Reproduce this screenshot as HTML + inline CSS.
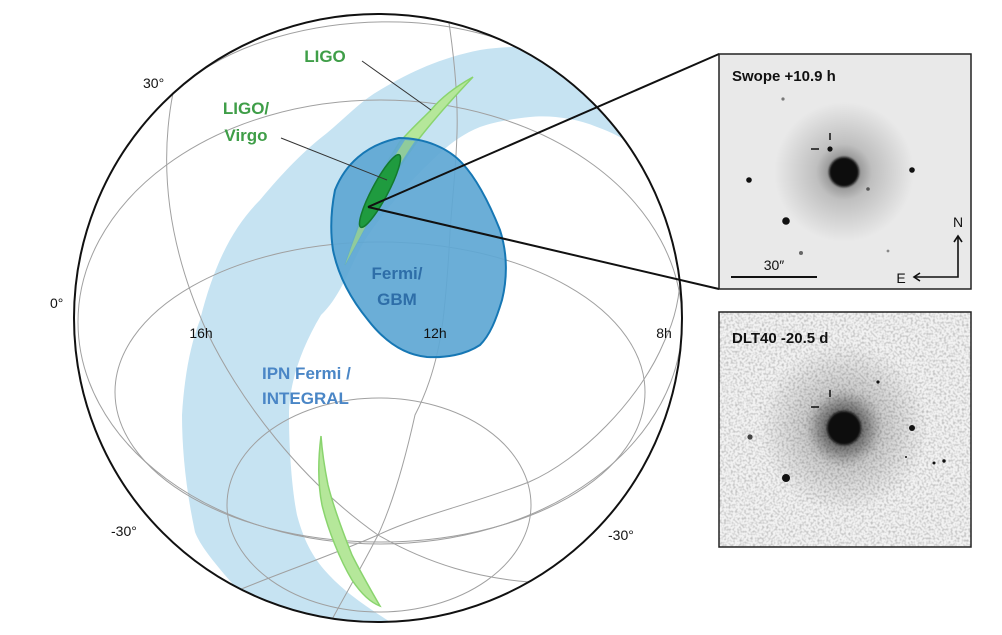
<!DOCTYPE html>
<html><head><meta charset="utf-8"><style>
html,body{margin:0;padding:0;background:#fff;overflow:hidden}
svg{display:block}
text{font-family:"Liberation Sans",Arial,sans-serif}
</style></head><body>
<svg width="1002" height="635" viewBox="0 0 1002 635" xmlns="http://www.w3.org/2000/svg">
<defs>
<clipPath id="gc"><circle cx="378" cy="318" r="304"/></clipPath>
<radialGradient id="halo1"><stop offset="0" stop-color="#000" stop-opacity="0.55"/><stop offset="0.4" stop-color="#000" stop-opacity="0.18"/><stop offset="1" stop-color="#000" stop-opacity="0"/></radialGradient>
<radialGradient id="halo2"><stop offset="0" stop-color="#000" stop-opacity="0.7"/><stop offset="0.4" stop-color="#000" stop-opacity="0.3"/><stop offset="1" stop-color="#000" stop-opacity="0"/></radialGradient>
<filter id="noise" x="0" y="0" width="100%" height="100%"><feTurbulence type="fractalNoise" baseFrequency="0.45" numOctaves="1" seed="3"/><feColorMatrix type="matrix" values="0 0 0 0 0  0 0 0 0 0  0 0 0 0 0  0 0 0 -1.8 1.05"/></filter>
<filter id="blur1"><feGaussianBlur stdDeviation="1"/></filter>
</defs>

<g clip-path="url(#gc)">
 <!-- IPN band -->
 <path d="M200,320 C215,260 235,225 260,200 C285,170 305,150 327,133 C345,118 362,100 380,90 C410,72 440,58 480,50 C505,46 530,46 547,50 C565,55 585,68 597,83 C615,103 628,122 640,148 C625,140 612,132 597,127 C575,118 550,115 530,117 C510,119 495,122 480,127 C465,133 452,142 440,153 C410,180 385,210 365,240 C350,265 342,295 321,315 C300,350 289,385 289,415 C289,450 292,490 297,515 C305,545 315,560 329,575 C345,592 365,606 395,625 L280,630 C255,605 240,595 231,582 C212,560 200,545 195,532 C186,490 182,450 182,415 C184,380 190,345 200,320 Z" fill="#c6e3f2"/>
 <!-- grid -->
 <g fill="none" stroke="#a0a0a0" stroke-width="1">
  <ellipse cx="380" cy="392" rx="265" ry="150"/>
  <ellipse cx="380" cy="322" rx="302" ry="222"/>
  <ellipse cx="379" cy="505" rx="152" ry="107"/>
  <path d="M447,10 C455,60 458,100 457,133 C456,170 452,200 450,233 C448,270 446,295 443,320 C438,360 428,390 415,415 C405,460 392,505 378,535 C360,570 345,595 329,625"/>
  <path d="M173,93 C160,160 165,240 207,332 C240,400 300,480 378,535 C430,565 480,578 529,582 C560,585 590,595 620,610"/>
  <path d="M173,93 C230,40 320,20 400,22 C500,25 600,70 650,150 C685,220 690,290 664,342 C640,400 580,460 529,482 C470,505 420,515 378,535 C320,560 260,580 220,598"/>
 </g>
 <!-- LIGO arcs -->
 <path d="M473,77 C455,87 440,99 431,110 C418,123 408,132 399,143 C385,165 372,190 362,215 C355,235 350,250 345,265 C356,245 368,222 380,200 C392,178 405,158 418,140 C435,118 455,96 473,77 Z" fill="#b5e79a" stroke="#8ad46e" stroke-width="1.5"/>
 <path d="M321,436 C318,460 318,485 322,505 C328,530 340,560 352,580 C362,595 372,603 380,606 C372,592 362,575 352,555 C342,530 333,505 328,485 C324,465 322,450 321,436 Z" fill="#b5e79a" stroke="#8ad46e" stroke-width="1.5"/>
 <!-- Fermi GBM -->
 <path d="M399,138 C425,138 448,148 462,163 C478,180 490,205 500,230 C508,255 507,280 502,300 C496,320 490,335 480,345 C465,355 445,358 427,357 C405,355 385,342 368,320 C350,298 338,275 333,250 C330,230 331,210 335,190 C345,165 365,145 399,138 Z" fill="#5ea7d4" fill-opacity="0.92" stroke="#1677b4" stroke-width="2"/>
 <path d="M405,140 C392,160 380,180 370,200 C360,222 352,245 345,265 C356,245 368,222 380,200 C390,180 402,160 415,141 Z" fill="#9fd68a" fill-opacity="0.75"/>
 <!-- dark green -->
 <ellipse cx="380" cy="191" rx="8" ry="41" transform="rotate(28 380 191)" fill="#1f9b3f" stroke="#137a2d" stroke-width="1.5"/>
 <!-- leader lines -->
 <line x1="362" y1="61" x2="431" y2="110" stroke="#333" stroke-width="1"/>
 <line x1="281" y1="138" x2="387" y2="180" stroke="#333" stroke-width="1"/>
</g>
<circle cx="378" cy="318" r="304" fill="none" stroke="#111" stroke-width="2"/>

<!-- callout lines -->
<line x1="368" y1="207" x2="719" y2="54" stroke="#111" stroke-width="2"/>
<line x1="368" y1="207" x2="719" y2="289" stroke="#111" stroke-width="2"/>

<!-- globe labels -->
<g font-weight="bold" font-size="17">
<text x="325" y="62" fill="#3f9e48" text-anchor="middle">LIGO</text>
<text x="246" y="114" fill="#3f9e48" text-anchor="middle">LIGO/</text>
<text x="246" y="141" fill="#3f9e48" text-anchor="middle">Virgo</text>
<text x="397" y="279" fill="#2e6ea8" text-anchor="middle">Fermi/</text>
<text x="397" y="305" fill="#2e6ea8" text-anchor="middle">GBM</text>
<text x="262" y="379" fill="#4a86c6">IPN Fermi /</text>
<text x="262" y="404" fill="#4a86c6">INTEGRAL</text>
</g>
<g font-size="14" fill="#111">
<text x="143" y="88">30°</text>
<text x="50" y="308">0°</text>
<text x="201" y="338" text-anchor="middle">16h</text>
<text x="435" y="338" text-anchor="middle">12h</text>
<text x="664" y="338" text-anchor="middle">8h</text>
<text x="111" y="536">-30°</text>
<text x="608" y="540">-30°</text>
</g>

<!-- top panel -->
<g>
<rect x="719" y="54" width="252" height="235" fill="#e9e9e9"/>
<circle cx="844" cy="172" r="70" fill="url(#halo1)"/>
<circle cx="844" cy="172" r="15" fill="#0a0a0a" filter="url(#blur1)"/>
<g fill="#111">
<circle cx="749" cy="180" r="2.8"/><circle cx="912" cy="170" r="2.8"/><circle cx="786" cy="221" r="3.8"/>
<circle cx="830" cy="149" r="2.6"/><circle cx="868" cy="189" r="1.8" fill="#555"/><circle cx="801" cy="253" r="2" fill="#666"/>
<circle cx="783" cy="99" r="1.6" fill="#777"/><circle cx="888" cy="251" r="1.4" fill="#888"/>
</g>
<line x1="830" y1="133" x2="830" y2="140" stroke="#111" stroke-width="1.5"/>
<line x1="811" y1="149" x2="819" y2="149" stroke="#111" stroke-width="1.5"/>
<text x="732" y="81" font-size="15" font-weight="bold" fill="#111">Swope +10.9 h</text>
<line x1="731" y1="277" x2="817" y2="277" stroke="#111" stroke-width="2"/>
<text x="774" y="270" font-size="14" fill="#111" text-anchor="middle">30″</text>
<text x="958" y="227" font-size="14" fill="#111" text-anchor="middle">N</text>
<text x="901" y="283" font-size="14" fill="#111" text-anchor="middle">E</text>
<path d="M958,237 L958,277 L915,277" fill="none" stroke="#111" stroke-width="1.6"/>
<path d="M954,242 L958,236 L962,242 M920,273 L914,277 L920,281" fill="none" stroke="#111" stroke-width="1.6"/>
<rect x="719" y="54" width="252" height="235" fill="none" stroke="#222" stroke-width="1.5"/>
</g>

<!-- bottom panel -->
<g>
<rect x="719" y="312" width="252" height="235" fill="#f2f2f2"/>
<rect x="719" y="312" width="252" height="235" filter="url(#noise)" opacity="0.3"/>
<circle cx="844" cy="428" r="85" fill="url(#halo1)"/>
<circle cx="844" cy="428" r="40" fill="url(#halo2)"/>
<circle cx="844" cy="428" r="17" fill="#0a0a0a" filter="url(#blur1)"/>
<g fill="#111">
<circle cx="750" cy="437" r="2.6" fill="#444"/><circle cx="912" cy="428" r="3"/><circle cx="786" cy="478" r="4"/>
<circle cx="878" cy="382" r="1.6"/><circle cx="934" cy="463" r="1.5"/><circle cx="944" cy="461" r="1.7"/><circle cx="906" cy="457" r="1"/>
</g>
<line x1="830" y1="390" x2="830" y2="397" stroke="#111" stroke-width="1.5"/>
<line x1="811" y1="407" x2="819" y2="407" stroke="#111" stroke-width="1.5"/>
<text x="732" y="343" font-size="15" font-weight="bold" fill="#111">DLT40 -20.5 d</text>
<rect x="719" y="312" width="252" height="235" fill="none" stroke="#222" stroke-width="1.5"/>
</g>
</svg>
</body></html>
